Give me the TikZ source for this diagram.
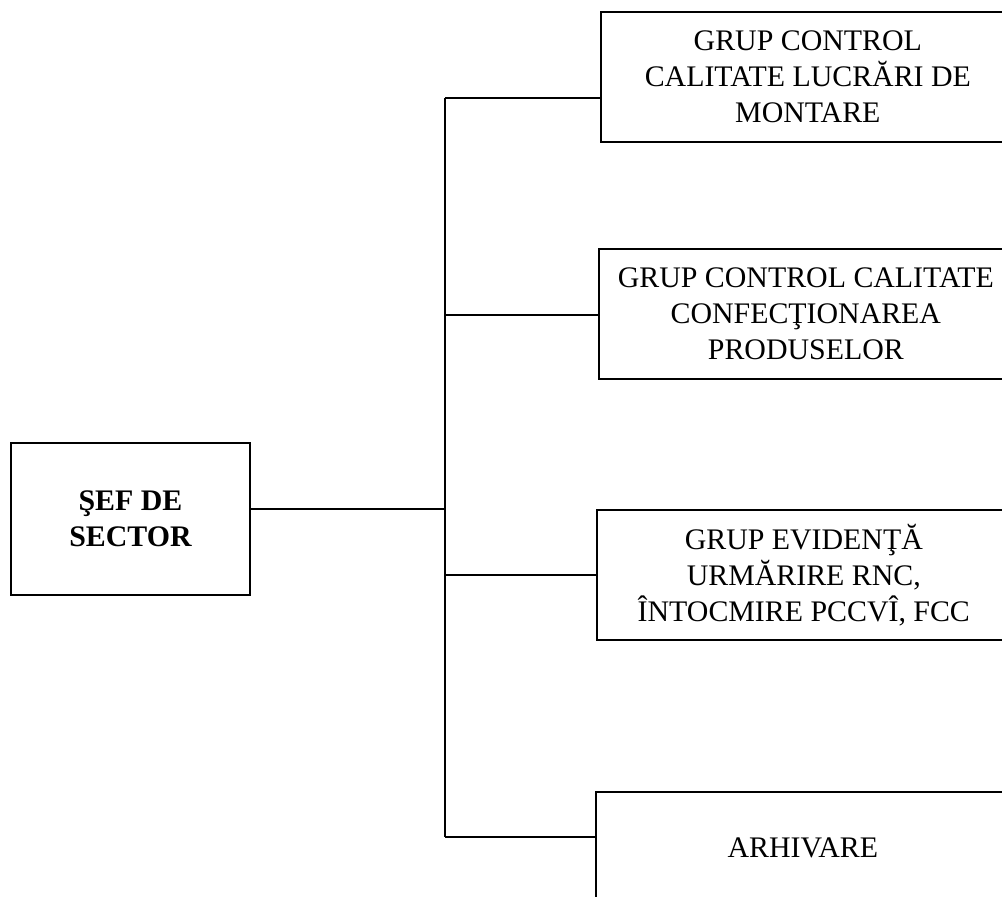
\documentclass[tikz,border=0pt]{standalone}
\usepackage{fontspec}
\setmainfont{Liberation Serif}
\usepackage{tikz}

\begin{document}
\begin{tikzpicture}[x=0.02cm, y=-0.02cm, line width=1pt,
		box/.style={draw, anchor=west, align=center, minimum width=8.28cm, minimum height=2.6cm,
			font=\fontsize{17}{20.5}\selectfont},
		chief/.style={draw, align=center, minimum width=4.78cm, minimum height=3.04cm,
			font=\fontsize{17}{20.5}\selectfont\bfseries}]
		\useasboundingbox (0, 0) rectangle (1002, 897);
		\clip (0, 0) rectangle (1002, 897);

		\node[chief] (sef) at (130.5, 519) {ŞEF DE\\SECTOR};

		\node[box] (montare) at (600, 77) {GRUP CONTROL\\CALITATE LUCRĂRI DE\\MONTARE};
		\node[box] (produse) at (598, 314) {GRUP CONTROL CALITATE\\CONFECŢIONAREA\\PRODUSELOR};
		\node[box] (evidenta) at (596, 575) {GRUP EVIDENŢĂ\\URMĂRIRE RNC,\\ÎNTOCMIRE PCCVÎ, FCC};
		\node[box, minimum height=2.24cm] (arhiva) at (595, 848) {ARHIVARE};

		\coordinate (hub) at (445, 509);
		\coordinate (j1) at (445, 98);
		\coordinate (j2) at (445, 315);
		\coordinate (j3) at (445, 575);
		\coordinate (j4) at (445, 837);

		\draw (hub -| sef.east) -- (hub);
		\draw (j1) -- (j4);

		\draw (j1) -- (j1 -| montare.west);
		\draw (j2) -- (j2 -| produse.west);
		\draw (j3) -- (j3 -| evidenta.west);
		\draw (j4) -- (j4 -| arhiva.west);

	\end{tikzpicture}
\end{document}
